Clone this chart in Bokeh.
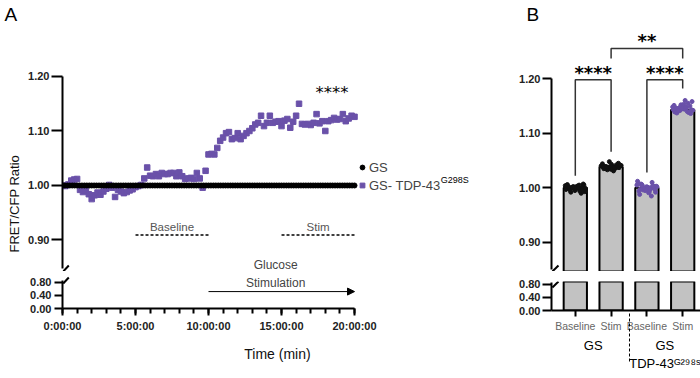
import numpy as np
from bokeh.plotting import figure
from bokeh.layouts import row, column
from bokeh.models import (Range1d, FactorRange, FixedTicker, Label, Arrow, NormalHead,
                          Legend, LegendItem, NumeralTickFormatter, Title)
from bokeh.embed import file_html
from bokeh.resources import INLINE

FONT = "Liberation Sans"
STAR_FONT = "DejaVu Sans"
PURPLE = "#6a51a9"
BAR_GRAY = "#c2c2c2"

# ---------------- Panel A data ----------------
gs_time = list(np.round(np.linspace(0, 20, 121), 4))
gs_ratio = [1.0] * 121
tdp_time = list(np.round(np.linspace(0, 20, 101), 4))
tdp_ratio = [
    1.000, 0.999, 1.002, 1.009, 1.011, 1.012, 0.992, 0.988, 0.991, 0.984,
    0.975, 0.982, 0.987, 0.983, 0.989, 0.994, 1.001, 0.996, 0.979, 0.992,
    0.989, 0.986, 0.988, 0.991, 0.993, 0.997, 0.999, 1.001, 1.013, 1.033,
    1.018, 1.017, 1.021, 1.017, 1.023, 1.021, 1.021, 1.023, 1.023, 1.017,
    1.024, 1.017, 1.012, 1.013, 1.014, 1.012, 1.023, 1.013, 0.996, 1.027,
    1.057, 1.058, 1.057, 1.069, 1.082, 1.088, 1.096, 1.098, 1.085, 1.087,
    1.096, 1.085, 1.091, 1.096, 1.100, 1.105, 1.112, 1.115, 1.128, 1.109,
    1.115, 1.128, 1.115, 1.117, 1.118, 1.109, 1.119, 1.122, 1.106, 1.117,
    1.128, 1.150, 1.113, 1.112, 1.113, 1.111, 1.115, 1.131, 1.114, 1.118,
    1.100, 1.118, 1.120, 1.124, 1.121, 1.122, 1.131, 1.118, 1.123, 1.128,
    1.126,
]
upper_yticks = [0.9, 1.0, 1.1, 1.2]
upper_ylabels = ["0.90", "1.00", "1.10", "1.20"]
lower_yticks = [0.0, 0.4, 0.8]
lower_ylabels = ["0.00", "0.40", "0.80"]
a_xticks = [0, 5, 10, 15, 20]
a_xlabels = ["0:00:00", "5:00:00", "10:00:00", "15:00:00", "20:00:00"]
a_minor = list(range(0, 21))
window_names = ["Baseline", "Stim"]
window_start = [5, 15]
window_end = [10, 20]
window_level = 0.909
stim_start, stim_end = 10, 20

# ---------------- Panel B data ----------------
b_groups = ["GS", "GS", "GS\nTDP-43\u1d33\u00b2\u2079\u2078\u02e2", "GS\nTDP-43\u1d33\u00b2\u2079\u2078\u02e2"]
b_conditions = ["Baseline", "Stim", "Baseline", "Stim"]
b_means = [1.000, 1.038, 1.000, 1.143]
gs_base = [1.004, 1.002, 0.998, 1.006, 0.995, 1.001, 0.999, 1.003, 0.993, 1.000,
           1.005, 0.997, 1.002, 0.990, 1.001, 0.998, 1.007, 0.996, 1.003, 0.999,
           1.000, 0.994, 1.004, 1.001, 0.997, 1.002, 0.999, 1.005, 0.992, 1.000]
gs_stim = [1.040, 1.036, 1.042, 1.038, 1.034, 1.045, 1.037, 1.039, 1.041, 1.033,
           1.036, 1.040, 1.048, 1.038, 1.035, 1.043, 1.037, 1.039, 1.031, 1.041,
           1.038, 1.036, 1.044, 1.037, 1.040, 1.039, 1.035, 1.042, 1.038, 1.037]
tdp_base = [1.005, 0.998, 1.010, 0.994, 1.002, 0.999, 1.007, 0.991, 1.003, 0.996,
            1.000, 1.012, 0.995, 1.004, 0.988, 1.001, 0.997, 1.006, 0.993, 1.002,
            0.999, 0.985, 1.008, 0.996, 1.003, 0.998, 1.001, 0.992, 1.004, 0.997]
tdp_stim = [1.148, 1.142, 1.155, 1.139, 1.146, 1.150, 1.137, 1.144, 1.158, 1.141,
            1.147, 1.143, 1.152, 1.138, 1.145, 1.149, 1.136, 1.144, 1.160, 1.142,
            1.147, 1.140, 1.151, 1.145, 1.139, 1.146, 1.153, 1.143, 1.141, 1.148]
b_points = [gs_base, gs_stim, tdp_base, tdp_stim]
b_colors = ["#111111", "#111111", PURPLE, PURPLE]
# brackets: left bar index, right bar index, top, left leg end, right leg end, text
br_left = [0, 2, 1]
br_right = [1, 3, 3]
br_top = [1.198, 1.198, 1.255]
br_lend = [1.022, 1.028, 1.237]
br_rend = [1.066, 1.182, 1.237]
br_text = ["****", "****", "**"]


def base_fig(fw, fh, left, right, top, bottom, xr, yr, x_axis):
    p = figure(frame_width=fw, frame_height=fh, min_border_left=left,
               min_border_right=right, min_border_top=top, min_border_bottom=bottom,
               x_range=xr, y_range=yr, output_backend="svg", toolbar_location=None,
               x_axis_location="below" if x_axis else None)
    p.outline_line_color = None
    p.grid.visible = False
    p.background_fill_color = "white"
    p.border_fill_color = "white"
    return p


def style_y(p, ticks, labels, bounds, tick_len, standoff):
    ax = p.yaxis[0]
    ax.ticker = FixedTicker(ticks=ticks, minor_ticks=[])
    ax.formatter = NumeralTickFormatter(format="0.00")
    ax.major_label_overrides = {t: l for t, l in zip(ticks, labels)}
    ax.bounds = bounds
    ax.axis_line_width = 2
    ax.axis_line_color = "black"
    ax.major_tick_line_width = 2
    ax.major_tick_out = tick_len
    ax.major_tick_in = 0
    ax.minor_tick_line_color = None
    ax.major_label_text_font = FONT
    ax.major_label_text_font_style = "bold"
    ax.major_label_text_font_size = "11px"
    ax.major_label_text_color = "#222222"
    ax.major_label_standoff = standoff


def panel_letter(p, text, offset):
    p.title.text = text
    p.title.align = "left"
    p.title.offset = offset
    p.title.standoff = 0
    p.title.vertical_align = "bottom"
    p.title.text_font = FONT
    p.title.text_font_size = "19px"
    p.title.text_font_style = "normal"
    p.title.text_color = "black"


def label(p, x, y, text, size, color="black", align="center", baseline="middle",
          font=FONT, style="normal"):
    p.add_layout(Label(x=x, y=y, text=text, text_font=font, text_font_size=size,
                       text_color=color, text_align=align, text_baseline=baseline,
                       text_font_style=style))


def slash(p, x0, y0, x1, y1):
    p.add_layout(Arrow(x_start=x0, y_start=y0, x_end=x1, y_end=y1, end=None,
                       line_color="black", line_width=2))


# ================= Panel A =================
xA = Range1d(0, 29.45)
pa = base_fig(430, 247, 56, 0, 24, 0, xA, Range1d(0.8422, 1.2954), False)
style_y(pa, upper_yticks, upper_ylabels, (0.848, 1.2), 11, 2)
panel_letter(pa, "A", -58)
pa.add_layout(Title(text="FRET/CFP Ratio", align="left", offset=19, standoff=8,
                    text_font=FONT, text_font_size="13px", text_font_style="normal",
                    text_color="#111111"),
              "left")

r_tdp = pa.scatter(tdp_time, tdp_ratio, marker="square", size=5.5, color=PURPLE)
r_gs = pa.scatter(gs_time, gs_ratio, marker="circle", size=5, color="black")

for name, a, b in zip(window_names, window_start, window_end):
    pa.line([a, b], [window_level, window_level], line_color="black",
            line_width=1.5, line_dash="3 2")
    label(pa, (a + b) / 2, 0.923, name, "11.5px", color="#555555")

label(pa, 18.45, 1.170, "****", "16.5px", baseline="alphabetic", font=STAR_FONT)
label(pa, 14.6, 0.855, "Glucose", "12px", color="#444444")

legend = Legend(items=[LegendItem(label="GS", renderers=[r_gs]),
                       LegendItem(label="GS- TDP-43", renderers=[r_tdp])],
                location=(294, 78), orientation="vertical", padding=0, margin=0,
                spacing=2, glyph_width=12, glyph_height=16, label_height=16,
                label_standoff=1, label_text_font=FONT, label_text_font_size="13px",
                border_line_color=None, background_fill_alpha=0)
pa.add_layout(legend)
label(pa, 25.9, 1.0092, "G298S", "9px", align="left")
slash(pa, 0.05, 0.8422, 0.43, 0.8532)

pa_low = base_fig(430, 37, 56, 0, 0, 70, xA, Range1d(0, 1.1374), True)
style_y(pa_low, lower_yticks, lower_ylabels, (0, 0.86), 8, 3)
ax = pa_low.xaxis[0]
ax.ticker = FixedTicker(ticks=a_xticks, minor_ticks=a_minor)
ax.major_label_overrides = dict(zip(a_xticks, a_xlabels))
ax.bounds = (0, 20)
ax.axis_line_width = 2
ax.major_tick_line_width = 2
ax.minor_tick_line_width = 2
ax.major_tick_out = 7
ax.major_tick_in = 0
ax.minor_tick_out = 5
ax.minor_tick_in = 0
ax.major_label_text_font = FONT
ax.major_label_text_font_style = "bold"
ax.major_label_text_font_size = "11px"
ax.major_label_text_color = "#222222"
ax.major_label_standoff = 4
ax.axis_label = "Time (min)"
ax.axis_label_text_font = FONT
ax.axis_label_text_font_style = "normal"
ax.axis_label_text_font_size = "14px"
ax.axis_label_text_color = "#111111"
ax.axis_label_standoff = 11
pa_low.add_layout(Arrow(x_start=stim_start, y_start=0.52, x_end=stim_end, y_end=0.52,
                        end=NormalHead(size=7, fill_color="black", line_color="black",
                                       line_width=1),
                        line_color="black", line_width=1))
label(pa_low, 14.6, 0.77, "Stimulation", "12px", color="#444444")
slash(pa_low, 0.05, 0.7685, 0.43, 0.953)

# ================= Panel B =================
factors = list(zip(b_groups, b_conditions))
xB = FactorRange(factors=factors, factor_padding=0, group_padding=0,
                 range_padding=0.165, range_padding_units="absolute")
pb = base_fig(155, 247, 59, 0, 24, 0, xB, Range1d(0.8468, 1.2991), False)
style_y(pb, upper_yticks, upper_ylabels, (0.851, 1.2), 9, 2)
panel_letter(pb, "B", -25)
pb_low = base_fig(155, 29, 59, 0, 10, 68, xB, Range1d(0, 0.8915), True)
style_y(pb_low, lower_yticks, lower_ylabels, (0, 0.86), 9, 2)

for p in (pb, pb_low):
    p.vbar(x=factors, top=b_means, bottom=0, width=0.65, fill_color=BAR_GRAY,
           line_color="black", line_width=2)

n = len(gs_base)
offsets = [((i * 11) % n / (n - 1) - 0.5) * 0.56 for i in range(n)]
for f, vals, col in zip(factors, b_points, b_colors):
    xs = [(f[0], f[1], o) for o in offsets[:len(vals)]]
    pb.scatter(xs, vals, marker="circle", size=4, color=col)

for a, b, top, le, re, txt in zip(br_left, br_right, br_top, br_lend, br_rend, br_text):
    pb.line([factors[a], factors[a], factors[b], factors[b]], [le, top, top, re],
            line_color="#333333", line_width=1.5)
    label(pb, (a + b) / 2 + 0.5, top + 0.014, txt, "18px", baseline="alphabetic",
          font=STAR_FONT, style="bold")

slash(pb, -0.14, 0.8468, 0.03, 0.8578)
slash(pb_low, -0.14, 0.707, 0.03, 0.8915)

axb = pb_low.xaxis[0]
axb.axis_line_width = 2
axb.major_tick_line_width = 2
axb.major_tick_out = 6
axb.major_tick_in = 0
axb.minor_tick_line_color = None
axb.major_label_text_font = FONT
axb.major_label_text_font_style = "normal"
axb.major_label_text_font_size = "10.5px"
axb.major_label_text_color = "#666666"
axb.major_label_standoff = 3
axb.group_text_font = FONT
axb.group_text_font_size = "13px"
axb.group_text_font_style = "normal"
axb.group_text_color = "black"
axb.separator_line_color = "black"
axb.separator_line_width = 1
axb.separator_line_dash = "3 2"

layout = row(column(pa, pa_low), column(pb, pb_low))
open("out.html", "w").write(file_html(layout, INLINE, title="FRET/CFP ratio"))
